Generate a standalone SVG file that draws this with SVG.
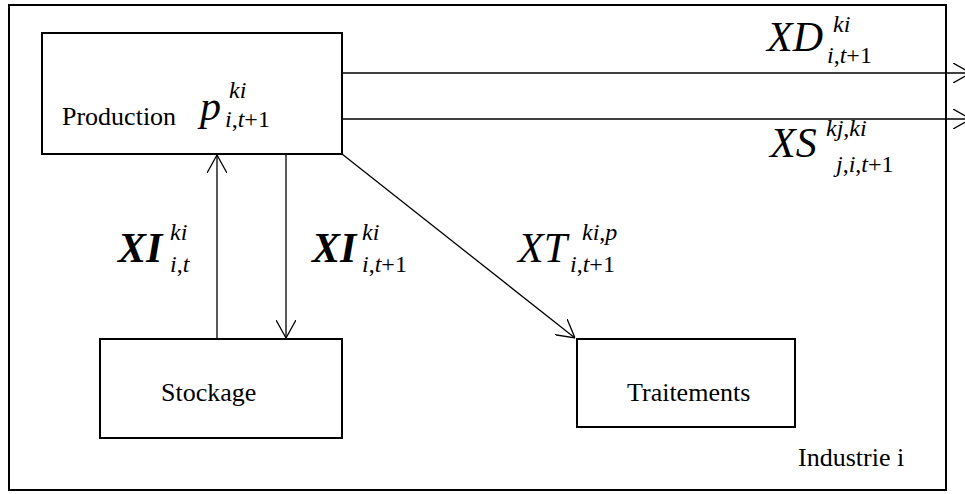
<svg xmlns="http://www.w3.org/2000/svg" width="965" height="494" viewBox="0 0 965 494">
<style>
.box{fill:#fff;stroke:#000;stroke-width:2}
.con{fill:none;stroke:#000;stroke-width:1.3}
.lbl{font-family:"Liberation Serif","Times New Roman",serif;font-size:26px;fill:#000}
.m{font-family:"Liberation Serif","Times New Roman",serif;font-style:italic;font-size:42px;fill:#000}
.mb{font-family:"Liberation Serif","Times New Roman",serif;font-style:italic;font-weight:bold;font-size:42px;fill:#000}
.s{font-family:"Liberation Serif","Times New Roman",serif;font-style:italic;font-size:24px;fill:#000}
.u{font-style:normal}
</style>
<defs>
<marker id="arr" viewBox="0 0 18 20" refX="18" refY="10" markerWidth="18" markerHeight="20" markerUnits="userSpaceOnUse" orient="auto">
<path d="M0,0 L18,10 L0,20" fill="none" stroke="#000" stroke-width="1.3"/>
</marker>
</defs>
<rect x="0" y="0" width="965" height="494" fill="#fff"/>
<g id="industrie">
<rect x="9" y="5" width="937" height="485" class="box"/>
<text x="798" y="466" class="lbl">Industrie i</text>
</g>
<g id="production">
<rect x="42" y="33" width="300" height="121" class="box"/>
<text x="62" y="125" class="lbl">Production</text>
<text x="200" y="120" class="m">p</text>
<text x="229" y="98" class="s">ki</text>
<text x="225" y="127" class="s">i<tspan class="u">,</tspan>t<tspan class="u">+1</tspan></text>
</g>
<g id="stockage">
<rect x="100" y="339" width="242" height="99" class="box"/>
<text x="161" y="401" class="lbl">Stockage</text>
</g>
<g id="traitements">
<rect x="577" y="339" width="218" height="88" class="box"/>
<text x="627" y="401" class="lbl">Traitements</text>
</g>
<g id="connectors">
<line x1="342" y1="73" x2="971" y2="73" class="con" marker-end="url(#arr)"/>
<line x1="342" y1="119" x2="971" y2="119" class="con" marker-end="url(#arr)"/>
<line x1="217" y1="339" x2="217" y2="155" class="con" marker-end="url(#arr)"/>
<line x1="286" y1="154" x2="286" y2="338" class="con" marker-end="url(#arr)"/>
<line x1="342" y1="154" x2="575" y2="338" class="con" marker-end="url(#arr)"/>
</g>
<g id="labels">
<text x="767" y="51" class="m">XD</text>
<text x="833" y="32" class="s">ki</text>
<text x="827" y="63" class="s">i<tspan class="u">,</tspan>t<tspan class="u">+1</tspan></text>
<text x="770" y="157" class="m">XS</text>
<text x="826" y="136" class="s">kj<tspan class="u">,</tspan>ki</text>
<text x="836" y="172" class="s">j<tspan class="u">,</tspan>i<tspan class="u">,</tspan>t<tspan class="u">+1</tspan></text>
<text x="118" y="262" class="mb">XI</text>
<text x="170" y="240" class="s">ki</text>
<text x="170" y="272" class="s">i<tspan class="u">,</tspan>t</text>
<text x="312" y="262" class="mb">XI</text>
<text x="362" y="240" class="s">ki</text>
<text x="362" y="272" class="s">i<tspan class="u">,</tspan>t<tspan class="u">+1</tspan></text>
<text x="518" y="262" class="m">XT</text>
<text x="582" y="240" class="s">ki<tspan class="u">,</tspan>p</text>
<text x="570" y="272" class="s">i<tspan class="u">,</tspan>t<tspan class="u">+1</tspan></text>
</g>
</svg>
